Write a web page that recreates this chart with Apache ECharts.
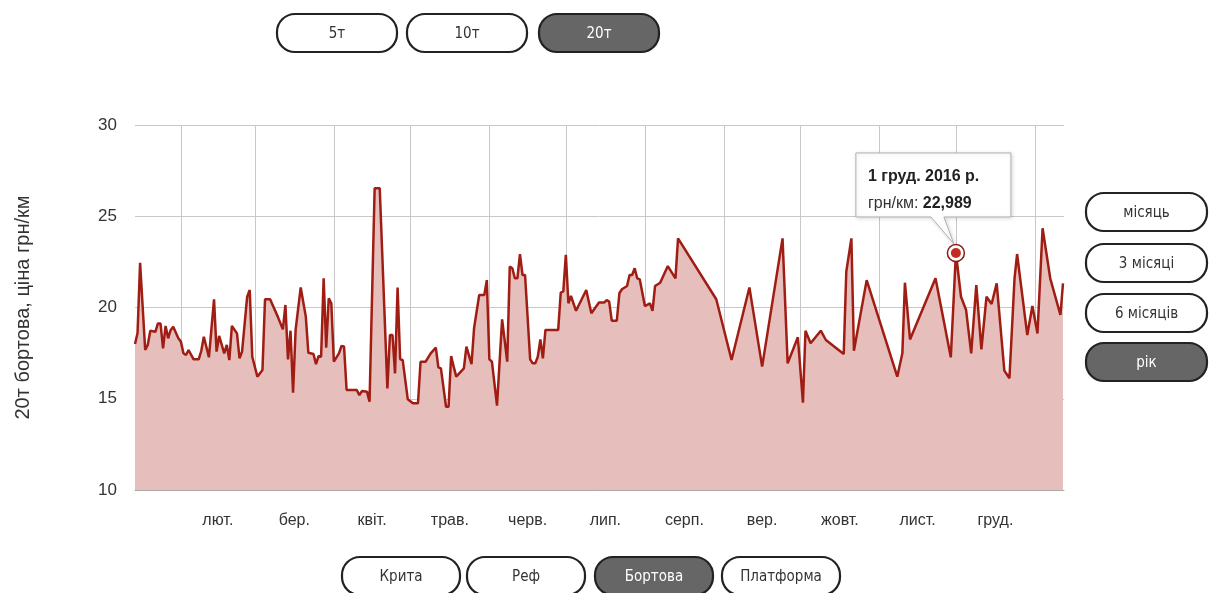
<!DOCTYPE html>
<html><head><meta charset="utf-8">
<script src="https://cdn.jsdelivr.net/npm/echarts@6/dist/echarts.min.js"></script>
<style>html,body{margin:0;padding:0;background:#fff}#c{width:1210px;height:593px}</style>
</head><body><div id="c"></div>
<script>
// Day of year 2016 (1 Jan = 0)
const days = [13,14,15,17,18,19,21,22,23,24,25,26,27,28,30,31,32,33,34,36,38,39,40,42,44,45,46,48,49,50,51,53,54,55,57,58,59,61,63,64,66,69,71,72,73,74,75,76,78,80,81,83,84,85,86,87,88,89,90,91,93,94,95,96,100,101,102,104,105,107,109,112,113,114,115,116,117,118,120,122,124,125,127,129,131,132,133,135,136,137,138,139,142,143,145,146,148,150,151,152,153,155,157,159,160,161,162,163,164,165,166,168,169,170,171,172,173,174,179,180,181,182,183,184,186,190,192,195,197,198,199,200,202,203,204,206,207,208,209,210,211,213,215,216,217,219,222,225,226,241,247,254,259,267,269,273,275,276,278,282,284,291,292,294,295,300,312,314,315,317,327,333,335,337,339,341,343,345,347,349,351,354,356,358,359,363,365,367,369,372,376,377];
const prices = [18.0,18.6,22.45,17.67,17.95,18.73,18.67,19.13,19.13,17.76,18.99,18.31,18.77,18.95,18.31,18.13,17.49,17.4,17.67,17.16,17.16,17.63,18.4,17.27,20.45,17.58,18.44,17.49,17.95,17.12,18.99,18.58,17.21,17.58,20.59,20.96,17.3,16.21,16.58,20.45,20.45,19.5,18.8,20.14,17.16,18.73,15.33,18.77,21.1,19.5,17.52,17.45,16.9,17.34,17.3,21.6,17.8,20.5,20.23,17.03,17.49,17.89,17.86,15.48,15.48,15.2,15.42,15.39,14.84,26.53,26.53,15.57,18.49,18.49,16.39,21.09,17.16,17.12,14.97,14.75,14.75,17.03,17.03,17.49,17.8,16.72,16.66,14.56,14.56,17.34,16.76,16.21,16.66,17.86,16.9,18.86,20.68,20.68,21.5,17.16,17.03,14.62,19.35,17.03,22.24,22.15,21.6,21.6,22.93,21.78,21.78,17.16,16.94,16.94,17.3,18.25,17.21,18.77,18.77,20.82,20.88,22.88,20.23,20.63,19.82,20.96,19.68,20.27,20.27,20.41,20.32,19.28,19.28,20.78,21.0,21.18,21.78,21.78,22.15,21.6,21.54,20.08,20.23,19.82,21.18,21.36,22.27,21.6,23.79,20.45,17.12,21.1,16.76,23.79,16.94,18.37,14.79,18.73,18.04,18.73,18.22,17.45,21.96,23.79,17.63,21.5,16.21,17.49,21.36,18.25,21.6,17.27,22.989,20.59,19.86,17.49,21.23,17.71,20.59,20.19,21.32,16.54,16.12,21.6,22.93,18.49,20.08,18.58,24.34,21.6,19.59,21.32];
const monthStarts = [31,60,91,121,152,182,213,244,274,305,335,366];
const monthMids = [45.5,75.5,106,136.5,167,197.5,228.5,259,289.5,320,350.5];
const monthLabels = ['лют.','бер.','квіт.','трав.','черв.','лип.','серп.','вер.','жовт.','лист.','груд.'];
const yMin = 10, yMax = 30, yStep = 5;
const xMin = 13, xMax = 377.4;
const yTitle = '20т бортова, ціна грн/км';
const tonnageButtons = ['5т','10т','20т'];
const periodButtons = ['місяць','3 місяці','6 місяців','рік'];
const typeButtons = ['Крита','Реф','Бортова','Платформа'];
const hlDay = 335, hlValue = 22.989, hlDate = '1 груд. 2016 р.', hlUnit = 'грн/км: ', hlText = '22,989';

const chart = echarts.init(document.getElementById('c'));
const btnFont = "'Liberation Sans Narrow','DejaVu Sans Condensed',Arial,sans-serif";
function button(x, y, w, h, text, active) {
  return {
    type: 'group', x: x, y: y, children: [
      {type: 'rect', shape: {x: 0, y: 0, width: w, height: h, r: 18},
       style: {fill: active ? '#666666' : '#ffffff', stroke: '#222', lineWidth: 2.2}},
      {type: 'text', x: w / 2, y: h / 2 + 1,
       style: {text: text, fill: active ? '#fff' : '#333', font: '15px ' + btnFont, align: 'center', verticalAlign: 'middle'}}
    ]
  };
}
const graphics = [];
const topX = [277, 407, 539];
tonnageButtons.forEach((t, i) => graphics.push(button(topX[i], 14, 120, 38, t, i === 2)));
const botX = [342, 467, 595, 722];
typeButtons.forEach((t, i) => graphics.push(button(botX[i], 557, 118, 38, t, i === 2)));
const rightY = [193, 244, 294, 343];
periodButtons.forEach((t, i) => graphics.push(button(1086, rightY[i], 121, 38, t, i === 3)));

const option = {
  animation: false,
  grid: {left: 135, right: 146, top: 125, bottom: 103},
  xAxis: {
    type: 'value', min: xMin, max: xMax,
    axisLine: {show: true, lineStyle: {color: '#aaa'}},
    axisTick: {show: false, customValues: monthStarts},
    splitLine: {show: true, lineStyle: {color: '#c8c8c8'}},
    axisLabel: {customValues: monthMids, color: '#333', fontSize: 16, margin: 23,
      fontFamily: 'Arial, Liberation Sans, sans-serif',
      formatter: v => { const i = monthMids.indexOf(v); return i >= 0 ? monthLabels[i] : ''; }}
  },
  yAxis: {
    type: 'value', min: yMin, max: yMax, interval: yStep,
    name: yTitle, nameLocation: 'middle', nameGap: 102, nameRotate: 90,
    nameTextStyle: {color: '#333', fontSize: 20, fontFamily: 'Arial, Liberation Sans, sans-serif'},
    axisLine: {show: false}, axisTick: {show: false},
    splitLine: {lineStyle: {color: '#c8c8c8'}},
    axisLabel: {color: '#333', fontSize: 17, margin: 18, fontFamily: 'Arial, Liberation Sans, sans-serif'}
  },
  series: [{
    type: 'line', data: days.map((d, i) => [d, prices[i]]),
    showSymbol: false, symbol: 'none',
    lineStyle: {color: '#a01d14', width: 2.5},
    areaStyle: {color: '#e6bfbc', opacity: 1, origin: 'start'}
  }],
  graphic: graphics
};
chart.setOption(option);

const p = chart.convertToPixel({gridIndex: 0}, [hlDay, hlValue]);
const px = p[0], py = p[1];
const L = px - 100, T = py - 100, R = px + 55, B = py - 36;
chart.setOption({graphic: graphics.concat([
  {type: 'polygon', z: 100,
   shape: {points: [[L, T], [R, T], [R, B], [px - 12, B], [px - 2, py - 9], [px - 25, B], [L, B]]},
   style: {fill: '#fff', stroke: '#b0b0b0', lineWidth: 1, shadowBlur: 4, shadowColor: 'rgba(0,0,0,0.15)', shadowOffsetX: 1, shadowOffsetY: 1}},
  {type: 'text', z: 101, x: L + 12, y: T + 24,
   style: {text: hlDate, fill: '#222', font: 'bold 16px Arial, Liberation Sans, sans-serif', verticalAlign: 'middle'}},
  {type: 'text', z: 101, x: L + 12, y: T + 51,
   style: {text: '{a|' + hlUnit + '}{b|' + hlText + '}', verticalAlign: 'middle',
     rich: {a: {fill: '#333', font: '16px Arial, Liberation Sans, sans-serif'}, b: {fill: '#222', font: 'bold 16px Arial, Liberation Sans, sans-serif'}}}},
  {type: 'circle', z: 102, shape: {cx: px, cy: py, r: 8.5}, style: {fill: '#fff', stroke: '#8a1a12', lineWidth: 1.5}},
  {type: 'circle', z: 103, shape: {cx: px, cy: py, r: 5}, style: {fill: '#c42b22'}}
])});
</script></body></html>
